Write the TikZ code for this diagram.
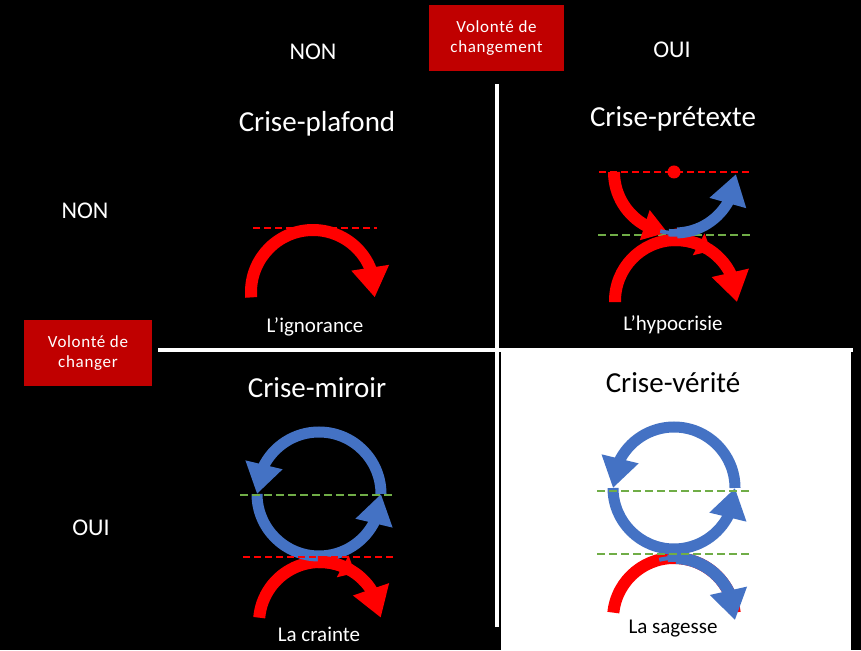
\documentclass[tikz,border=0pt]{standalone}
\usepackage{fontspec}
\setmainfont{Carlito}
\usetikzlibrary{arrows.meta,bending}
\definecolor{pred}{HTML}{FF0000}
\definecolor{pblue}{HTML}{4472C4}
\definecolor{pgreen}{HTML}{70AD47}
\definecolor{boxred}{HTML}{C00000}
\tikzset{
  redband/.style={draw=pred, line width=12pt},
  blueband/.style={draw=pblue, line width=11pt},
  bigtip/.style={-{Triangle[width=36pt,length=30pt]}},
  midtip/.style={-{Triangle[width=30pt,length=24pt]}},
  smalltip/.style={-{Triangle[width=24pt,length=14pt]}},
  reddash/.style={draw=pred, line width=2pt, dash pattern=on 7pt off 4pt},
  greendash/.style={draw=pgreen, line width=2.5pt, dash pattern=on 8pt off 4pt},
  axislabel/.style={text=white, font=\fontsize{24}{28}\selectfont},
  header/.style={font=\fontsize{29}{34}\selectfont},
  caption/.style={font=\fontsize{21}{25}\selectfont},
  redbox/.style={fill=boxred, text=white, font=\fontsize{17}{20}\selectfont\addfontfeatures{LetterSpace=4}, align=center, inner sep=0pt},
}
% arc helper: #1 style, #2 centre, #3 radius, #4 start, #5 end
\newcommand\qarc[5]{\draw[#1] ([shift={#2}]#4:#3) arc[start angle=#4, end angle=#5, radius=#3];}
\begin{document}
\begin{tikzpicture}[x=1pt,y=1pt]
\useasboundingbox (0,0) rectangle (861,650);
\fill[black] (0,0) rectangle (861,650);
% white quadrant
\fill[white] (501,0) rectangle (851,302);
% axes
\draw[white, line width=4pt] (158,300) -- (853,300);
\draw[white, line width=4pt] (497,23) -- (497,566);
% red boxes
\node[redbox, minimum width=135pt, minimum height=66pt] (vchgt) at (496.5,612) {Volonté de\\changement};
\node[redbox, minimum width=128pt, minimum height=66pt] (vchgr) at (88,297) {Volonté de\\changer};
% axis labels
\node[axislabel] (colnon) at (313,598) {NON};
\node[axislabel] (coloui) at (672,600) {OUI};
\node[axislabel] (rownon) at (85,439) {NON};
\node[axislabel] (rowoui) at (91,122) {OUI};
% headers
\node[header, text=white] (h1) at (317,526) {Crise-plafond};
\node[header, text=white] (h2) at (673,531) {Crise-prétexte};
\node[header, text=white] (h3) at (317,262) {Crise-miroir};
\node[header, text=black] (h4) at (673,267) {Crise-vérité};
% captions
\node[caption, text=white] (c1) at (315,323) {L’ignorance};
\node[caption, text=white] (c2) at (673,325) {L’hypocrisie};
\node[caption, text=white] (c3) at (319,16) {La crainte};
\node[caption, text=black] (c4) at (673,21) {La sagesse};

% ---------- Q1 : Crise-plafond ----------
\draw[reddash] (253,422) -- (377,422);
\qarc{redband,bigtip}{(313,358)}{62}{185}{-5}

% ---------- Q2 : Crise-prétexte ----------
\draw[reddash] (599,478) -- (752,478);
\draw[greendash] (598,415) -- (752,415);
\qarc{redband}{(676,349)}{61}{181}{60}
\qarc{redband,bigtip}{(676,349)}{61}{62}{-1}
\qarc{redband,smalltip}{(676,349)}{61}{95}{55}
\qarc{redband,midtip}{(675,478)}{61}{180}{263}
\fill[pred] (674,478) circle (6.5);
\fill[pred] (676,415) circle (6.5);
\qarc{draw=pblue, line width=4pt}{(675,478)}{61}{256}{268}
\qarc{draw=pblue, line width=7.5pt}{(675,478)}{61}{264}{276}
\qarc{blueband,bigtip}{(675,478)}{61}{272}{358}

% ---------- Q3 : Crise-miroir ----------
\qarc{redband}{(320,27)}{61}{175}{60}
\qarc{redband,bigtip}{(320,27)}{61}{62}{5}
\qarc{blueband,bigtip}{(319,156)}{62}{0}{180}
\qarc{blueband,bigtip}{(319,156)}{62}{180}{360}
\qarc{redband,smalltip}{(320,27)}{61}{92}{55}
\draw[greendash] (240,155) -- (393,155);
\draw[reddash] (243,93) -- (395,93);

% ---------- Q4 : Crise-vérité ----------
\qarc{redband}{(674,31)}{61}{174}{6}
\qarc{blueband,bigtip}{(674,162)}{61}{0}{180}
\qarc{blueband,bigtip}{(674,162)}{61}{180}{360}
\qarc{draw=pblue, line width=4pt}{(674,31)}{61}{104}{92}
\qarc{draw=pblue, line width=7.5pt}{(674,31)}{61}{96}{84}
\qarc{draw=pblue, line width=12pt, -{Triangle[width=36pt,length=30pt]}}{(674,31)}{61}{88}{-1}
\draw[greendash] (597,159) -- (752,159);
\draw[greendash] (597,96) -- (752,96);
\end{tikzpicture}
\end{document}
